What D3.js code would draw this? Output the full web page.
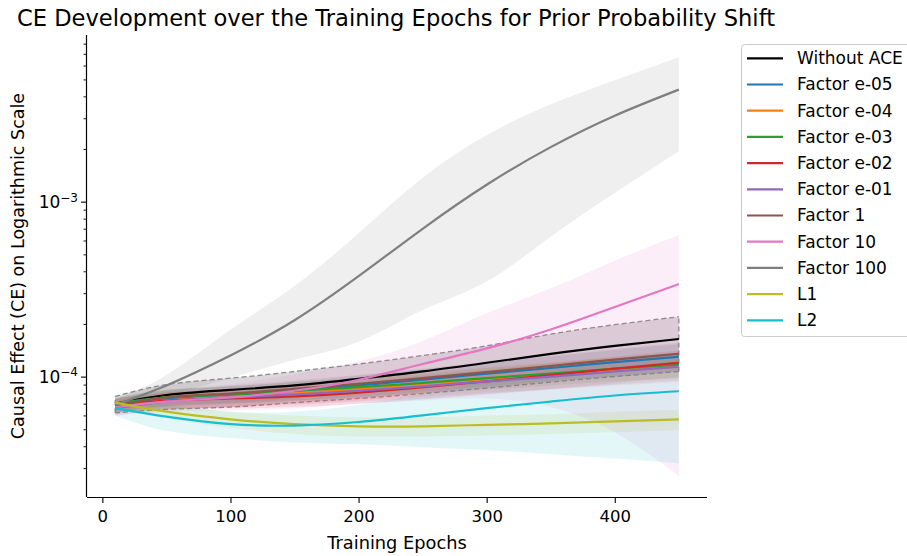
<!DOCTYPE html>
<html><head><meta charset="utf-8">
<script src="https://cdn.jsdelivr.net/npm/d3@7"></script>
<style>
body{margin:0;background:#fff}
svg{display:block}
text{font-family:"DejaVu Sans",sans-serif;fill:#000}
</style>
</head><body>
<svg id="chart" width="907" height="556"></svg>
<script>
// ---------------- data ----------------
const epochs = [10, 50, 100, 150, 200, 250, 300, 350, 400, 450];
const xTicks = [0, 100, 200, 300, 400];
const yMajorTicks = [1e-4, 1e-3];

const seriesNames = ["Without ACE", "Factor e-05", "Factor e-04", "Factor e-03", "Factor e-02",
  "Factor e-01", "Factor 1", "Factor 10", "Factor 100", "L1", "L2"];
const seriesColors = ["#000000", "#1f77b4", "#ff7f0e", "#2ca02c", "#d62728",
  "#9467bd", "#8c564b", "#e377c2", "#7f7f7f", "#bcbd22", "#17becf"];

// mean curves
const withoutAceMean = [7.0e-5, 7.85e-5, 8.4e-5, 8.9e-5, 9.7e-5, 1.07e-4, 1.2e-4, 1.35e-4, 1.5e-4, 1.64e-4];
const factorE05Mean  = [6.9e-5, 7.5e-5, 7.9e-5, 8.3e-5, 8.9e-5, 9.6e-5, 1.04e-4, 1.12e-4, 1.21e-4, 1.30e-4];
const factorE04Mean  = [6.8e-5, 7.3e-5, 7.6e-5, 8.0e-5, 8.5e-5, 9.1e-5, 9.7e-5, 1.03e-4, 1.09e-4, 1.14e-4];
const factorE03Mean  = [7.0e-5, 7.6e-5, 7.9e-5, 8.3e-5, 8.7e-5, 9.2e-5, 9.8e-5, 1.04e-4, 1.11e-4, 1.17e-4];
const factorE02Mean  = [6.9e-5, 7.3e-5, 7.5e-5, 7.7e-5, 8.1e-5, 8.7e-5, 9.4e-5, 1.02e-4, 1.11e-4, 1.20e-4];
const factorE01Mean  = [6.6e-5, 7.2e-5, 7.6e-5, 7.9e-5, 8.3e-5, 8.8e-5, 9.4e-5, 1.00e-4, 1.07e-4, 1.14e-4];
const factor1Mean    = [6.8e-5, 7.6e-5, 8.0e-5, 8.5e-5, 9.1e-5, 9.8e-5, 1.06e-4, 1.15e-4, 1.25e-4, 1.35e-4];
const factor10Mean   = [6.7e-5, 7.2e-5, 7.6e-5, 8.3e-5, 9.6e-5, 1.18e-4, 1.45e-4, 1.86e-4, 2.5e-4, 3.38e-4];
const factor100Mean  = [6.9e-5, 8.9e-5, 1.32e-4, 2.1e-4, 3.75e-4, 7.0e-4, 1.25e-3, 2.05e-3, 3.1e-3, 4.37e-3];
const l1Mean         = [7.1e-5, 6.3e-5, 5.7e-5, 5.35e-5, 5.2e-5, 5.2e-5, 5.3e-5, 5.4e-5, 5.55e-5, 5.7e-5];
const l2Mean         = [6.6e-5, 5.9e-5, 5.35e-5, 5.25e-5, 5.5e-5, 6.0e-5, 6.6e-5, 7.2e-5, 7.8e-5, 8.25e-5];

// lower edges of the shaded bands
const withoutAceLow = [6.2e-5, 6.5e-5, 6.7e-5, 7.1e-5, 7.5e-5, 8.0e-5, 8.6e-5, 9.3e-5, 1.0e-4, 1.07e-4];
const factorE05Low  = [6.3e-5, 6.7e-5, 7.0e-5, 7.3e-5, 7.7e-5, 8.2e-5, 8.8e-5, 9.4e-5, 1.0e-4, 1.07e-4];
const factorE04Low  = [6.2e-5, 6.5e-5, 6.7e-5, 7.0e-5, 7.3e-5, 7.7e-5, 8.1e-5, 8.5e-5, 8.9e-5, 9.3e-5];
const factorE03Low  = [6.4e-5, 6.8e-5, 7.0e-5, 7.3e-5, 7.6e-5, 8.0e-5, 8.4e-5, 8.9e-5, 9.4e-5, 9.8e-5];
const factorE02Low  = [6.3e-5, 6.5e-5, 6.6e-5, 6.7e-5, 7.0e-5, 7.4e-5, 7.9e-5, 8.5e-5, 9.2e-5, 9.9e-5];
const factorE01Low  = [6.0e-5, 6.4e-5, 6.7e-5, 6.9e-5, 7.2e-5, 7.5e-5, 8.0e-5, 8.4e-5, 9.0e-5, 9.5e-5];
const factor1Low    = [6.2e-5, 6.8e-5, 7.1e-5, 7.5e-5, 8.0e-5, 8.5e-5, 9.1e-5, 9.8e-5, 1.06e-4, 1.14e-4];
const factor10Low   = [6.0e-5, 6.3e-5, 6.4e-5, 6.6e-5, 7.0e-5, 7.3e-5, 7.5e-5, 6.7e-5, 4.8e-5, 2.7e-5];
const factor100Low  = [6.4e-5, 7.8e-5, 9.8e-5, 1.25e-4, 1.58e-4, 2.4e-4, 3.5e-4, 6.3e-4, 1.12e-3, 1.94e-3];
const l1Low         = [6.8e-5, 5.8e-5, 5.1e-5, 4.7e-5, 4.55e-5, 4.55e-5, 4.6e-5, 4.7e-5, 4.8e-5, 4.95e-5];
const l2Low         = [6.0e-5, 4.9e-5, 4.45e-5, 4.2e-5, 4.1e-5, 3.95e-5, 3.8e-5, 3.6e-5, 3.4e-5, 3.2e-5];

// upper edges of the shaded bands
const withoutAceHigh = [7.7e-5, 9.0e-5, 9.8e-5, 1.07e-4, 1.18e-4, 1.32e-4, 1.5e-4, 1.75e-4, 1.98e-4, 2.2e-4];
const factorE05High  = [7.5e-5, 8.3e-5, 8.8e-5, 9.3e-5, 1.01e-4, 1.10e-4, 1.20e-4, 1.30e-4, 1.42e-4, 1.53e-4];
const factorE04High  = [7.4e-5, 8.1e-5, 8.5e-5, 9.0e-5, 9.7e-5, 1.05e-4, 1.13e-4, 1.21e-4, 1.29e-4, 1.35e-4];
const factorE03High  = [7.6e-5, 8.4e-5, 8.8e-5, 9.3e-5, 9.8e-5, 1.04e-4, 1.12e-4, 1.19e-4, 1.28e-4, 1.36e-4];
const factorE02High  = [7.5e-5, 8.1e-5, 8.4e-5, 8.7e-5, 9.2e-5, 1.00e-4, 1.09e-4, 1.19e-4, 1.30e-4, 1.41e-4];
const factorE01High  = [7.2e-5, 8.0e-5, 8.5e-5, 8.9e-5, 9.4e-5, 1.01e-4, 1.08e-4, 1.16e-4, 1.24e-4, 1.33e-4];
const factor1High    = [7.4e-5, 8.4e-5, 8.9e-5, 9.5e-5, 1.02e-4, 1.11e-4, 1.21e-4, 1.32e-4, 1.44e-4, 1.56e-4];
const factor10High   = [7.5e-5, 8.2e-5, 9.0e-5, 1.03e-4, 1.22e-4, 1.6e-4, 2.3e-4, 3.2e-4, 4.6e-4, 6.45e-4];
const factor100High  = [7.4e-5, 1.02e-4, 1.85e-4, 3.3e-4, 6.6e-4, 1.37e-3, 2.4e-3, 3.6e-3, 4.95e-3, 6.7e-3];
const l1High         = [7.4e-5, 6.8e-5, 6.3e-5, 6.0e-5, 5.85e-5, 5.85e-5, 6.0e-5, 6.1e-5, 6.3e-5, 6.45e-5];
const l2High         = [7.2e-5, 6.9e-5, 6.3e-5, 6.3e-5, 6.9e-5, 8.0e-5, 9.4e-5, 1.08e-4, 1.22e-4, 1.33e-4];

const means = [withoutAceMean, factorE05Mean, factorE04Mean, factorE03Mean, factorE02Mean,
  factorE01Mean, factor1Mean, factor10Mean, factor100Mean, l1Mean, l2Mean];
const lows = [withoutAceLow, factorE05Low, factorE04Low, factorE03Low, factorE02Low,
  factorE01Low, factor1Low, factor10Low, factor100Low, l1Low, l2Low];
const highs = [withoutAceHigh, factorE05High, factorE04High, factorE03High, factorE02High,
  factorE01High, factor1High, factor10High, factor100High, l1High, l2High];

const series = seriesNames.map((name, i) => ({
  name, color: seriesColors[i],
  points: epochs.map((e, j) => ({ x: e, m: means[i][j], lo: lows[i][j], hi: highs[i][j] }))
}));

// ---------------- layout ----------------
const L = 87, R = 707, T = 35, B = 497;
const svg = d3.select("#chart");

const x = d3.scaleLinear().domain([-12, 472]).range([L, R]);
const y = d3.scaleLog().domain([2.05e-5, 8.97e-3]).range([B, T]);

const plot = svg.append("g");
plot.append("defs").append("clipPath").attr("id", "clip")
  .append("rect").attr("x", L).attr("y", T).attr("width", R - L).attr("height", B - T);
const clipped = plot.append("g").attr("clip-path", "url(#clip)");

const curve = d3.curveNatural;
const area = d3.area().x(d => x(d.x)).y0(d => y(d.lo)).y1(d => y(d.hi)).curve(curve);
const line = d3.line().x(d => x(d.x)).y(d => y(d.m)).curve(curve);
const edgeLo = d3.line().x(d => x(d.x)).y(d => y(d.lo)).curve(curve);
const edgeHi = d3.line().x(d => x(d.x)).y(d => y(d.hi)).curve(curve);

// bands
series.forEach((s, i) => {
  if (i === 0) {
    clipped.append("path").datum(s.points).attr("d", area)
      .attr("fill", "#5a4a55").attr("fill-opacity", 0.22);
    [edgeLo, edgeHi].forEach(g => clipped.append("path").datum(s.points).attr("d", g)
      .attr("fill", "none").attr("stroke", "#8a8a8a").attr("stroke-width", 1.3)
      .attr("stroke-dasharray", "5,3"));
    [s.points[0], s.points[s.points.length - 1]].forEach(p =>
      clipped.append("line").attr("x1", x(p.x)).attr("x2", x(p.x))
        .attr("y1", y(p.lo)).attr("y2", y(p.hi))
        .attr("stroke", "#8a8a8a").attr("stroke-width", 1.3).attr("stroke-dasharray", "5,3"));
  } else {
    clipped.append("path").datum(s.points).attr("d", area)
      .attr("fill", s.color).attr("fill-opacity", 0.12);
  }
});

// lines
series.forEach(s => {
  clipped.append("path").datum(s.points).attr("d", line)
    .attr("fill", "none").attr("stroke", s.color).attr("stroke-width", 2.2);
});

// ---------------- axes ----------------
const xAxis = d3.axisBottom(x).tickValues(xTicks).tickSize(6).tickPadding(7).tickFormat(d3.format("d"));
const gx = svg.append("g").attr("transform", `translate(0,${B})`).call(xAxis);
gx.select(".domain").attr("d", `M${L},0.5H${R}`).attr("stroke", "#000").attr("stroke-width", 1.2);
gx.selectAll(".tick line").attr("stroke", "#000").attr("stroke-width", 1.1);
gx.selectAll(".tick text").attr("font-size", 16.5).attr("font-family", "DejaVu Sans");

const minorTicks = y.ticks().filter(v => !yMajorTicks.some(m => Math.abs(v - m) / m < 1e-6));
const gyMinor = svg.append("g").attr("transform", `translate(${L},0)`)
  .call(d3.axisLeft(y).tickValues(minorTicks).tickSize(3.5).tickFormat(""));
gyMinor.select(".domain").remove();
gyMinor.selectAll(".tick line").attr("stroke", "#000").attr("stroke-width", 0.9);

const gy = svg.append("g").attr("transform", `translate(${L},0)`)
  .call(d3.axisLeft(y).tickValues(yMajorTicks).tickSize(6).tickPadding(3));
gy.select(".domain").attr("d", `M-0.5,${T}V${B}`).attr("stroke", "#000").attr("stroke-width", 1.2);
gy.selectAll(".tick line").attr("stroke", "#000").attr("stroke-width", 1.1);
gy.selectAll(".tick text").each(function (d) {
  const t = d3.select(this);
  t.text(null).attr("font-size", 17).attr("font-family", "DejaVu Sans").attr("dy", "0.35em");
  t.append("tspan").text("10");
  t.append("tspan").attr("dy", "-0.55em").attr("font-size", 12)
    .text("\u2212" + Math.round(-Math.log10(d)));
});

// ---------------- labels ----------------
svg.append("text").attr("x", (L + R) / 2 - 1).attr("y", 26).attr("text-anchor", "middle")
  .attr("font-size", 22.6).text("CE Development over the Training Epochs for Prior Probability Shift");
svg.append("text").attr("x", (L + R) / 2).attr("y", 549).attr("text-anchor", "middle")
  .attr("font-size", 17.8).text("Training Epochs");
svg.append("text").attr("transform", `translate(24,${(T + B) / 2}) rotate(-90)`)
  .attr("text-anchor", "middle").attr("font-size", 17.5)
  .text("Causal Effect (CE) on Logarithmic Scale");

// ---------------- legend ----------------
const lg = svg.append("g");
lg.append("rect").attr("x", 741.5).attr("y", 44.5).attr("width", 190).attr("height", 292)
  .attr("rx", 3).attr("fill", "#fff").attr("fill-opacity", 0.8)
  .attr("stroke", "#cccccc").attr("stroke-width", 1);
series.forEach((s, i) => {
  const cy = 58.3 + i * 26.2;
  lg.append("line").attr("x1", 747).attr("x2", 783).attr("y1", cy).attr("y2", cy)
    .attr("stroke", s.color).attr("stroke-width", 2.2);
  lg.append("text").attr("x", 797).attr("y", cy).attr("dy", "0.35em")
    .attr("font-size", 17).text(s.name);
});
</script>
</body></html>
